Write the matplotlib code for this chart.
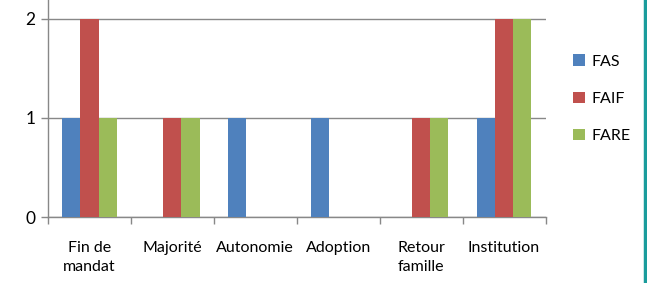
import numpy as np
import matplotlib.pyplot as plt
from matplotlib.lines import Line2D

categories = ['Fin de\nmandat', 'Majorité', 'Autonomie', 'Adoption', 'Retour\nfamille', 'Institution']
fas = [1, 0, 1, 1, 0, 1]
faif = [2, 1, 0, 0, 1, 2]
fare = [1, 1, 0, 0, 1, 2]
series = ['FAS', 'FAIF', 'FARE']
colors = ['#4F81BD', '#C0504D', '#9BBB59']

plt.rcParams['font.family'] = ['Lato', 'DejaVu Sans']

fig = plt.figure(figsize=(6.47, 2.83), dpi=100)
W, H = 647, 283
ax = fig.add_axes([48 / W, 1 - 217 / H, (545.5 - 48) / W, 217 / H])

x = np.arange(len(categories))
w = 0.22
for i, (vals, c) in enumerate(zip([fas, faif, fare], colors)):
    ax.bar(x + (i - 1) * w, vals, width=w, color=c, label=series[i], zorder=3)

ax.set_xlim(-0.5, len(categories) - 0.5)
ax.set_ylim(0, 2.19)
ax.set_yticks([0, 1, 2])
ax.yaxis.grid(True, color='#888888', linewidth=1, zorder=0)

ax.set_xticks(np.arange(-0.5, len(categories), 1))
ax.set_xticklabels([])
ax.set_xticks(x, minor=True)
ax.set_xticklabels(categories, minor=True, fontsize=11.5, linespacing=1.45)
ax.tick_params(axis='x', which='minor', length=0, pad=17)
ax.tick_params(axis='x', which='major', length=5, color='#888888', width=1)
ax.tick_params(axis='y', length=5, color='#888888', width=1, labelsize=12.5, pad=4)

for s in ['top', 'right']:
    ax.spines[s].set_visible(False)
for s in ['left', 'bottom']:
    ax.spines[s].set_color('#888888')
    ax.spines[s].set_linewidth(1)

ax.legend(loc='upper left', bbox_to_anchor=(559 / W, 1 - 40 / H), bbox_transform=fig.transFigure,
          frameon=False, fontsize=11.5, handlelength=0.7, handleheight=0.7, handletextpad=0.45,
          labelspacing=1.45)

fig.add_artist(Line2D([644.5 / W, 644.5 / W], [0, 1], transform=fig.transFigure,
                      color='#1A9C9C', linewidth=2.5))

fig.savefig('out.png', dpi=100)
